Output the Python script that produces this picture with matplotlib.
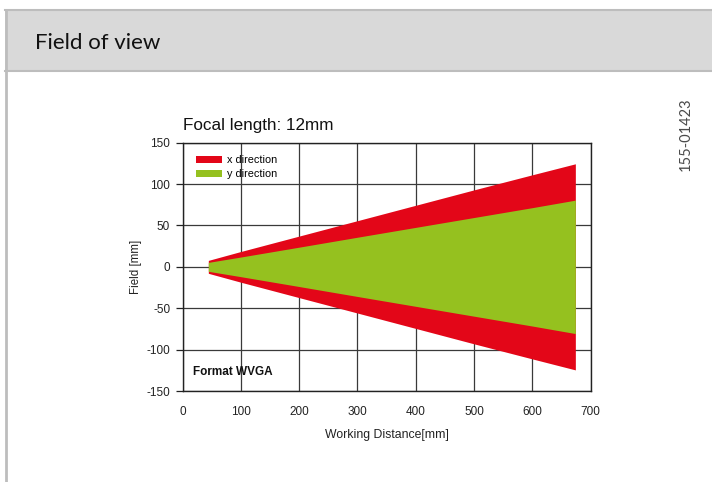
import matplotlib
matplotlib.use("Agg")
import matplotlib.pyplot as plt
from matplotlib.patches import Rectangle
from matplotlib.lines import Line2D

plt.rcParams["axes.unicode_minus"] = False

# Data
distance = [44, 100, 200, 300, 400, 500, 600, 674]          # working distance [mm]
x_half = [7.8, 18.6, 37.2, 55.8, 74.4, 93.0, 111.2, 124.5]  # half field, x direction [mm]
y_half = [5.4, 11.9, 23.8, 35.8, 47.7, 59.6, 71.5, 80.6]    # half field, y direction [mm]
x_ticks = [0, 100, 200, 300, 400, 500, 600, 700]
y_ticks = [-150, -100, -50, 0, 50, 100, 150]
series_labels = ["x direction", "y direction"]

RED = "#e30618"
GREEN = "#95c11f"

fig = plt.figure(figsize=(7.12, 4.82), dpi=100)
fig.patch.set_facecolor("white")

# Page header band
W, H = 712.0, 482.0
def fx(px): return px / W
def fy(py): return 1 - py / H
fig.patches.append(Rectangle((fx(5), fy(71)), 1 - fx(5), fy(10) - fy(71),
                             transform=fig.transFigure, facecolor="#d9d9d9",
                             edgecolor="none", zorder=0))
fig.lines.append(Line2D([fx(5), 1], [fy(10), fy(10)], transform=fig.transFigure,
                        color="#bdbdbd", lw=1.5))
fig.lines.append(Line2D([fx(5), 1], [fy(70.5), fy(70.5)], transform=fig.transFigure,
                        color="#bdbdbd", lw=1.5))
fig.lines.append(Line2D([fx(6), fx(6)], [fy(10), 0], transform=fig.transFigure,
                        color="#bdbdbd", lw=2))
fig.text(fx(35), fy(43), "Field of view", fontsize=16, family="Lato",
         va="center", ha="left", color="#111111")
fig.text(fx(686), fy(134), "155-01423", fontsize=10.5, family="Lato",
         rotation=90, va="center", ha="center", color="#4a4a4a")

ax = fig.add_axes([fx(182.7), fy(391), fx(590.5) - fx(182.7), fy(142.7) - fy(391)])

neg_x = [-v for v in x_half]
neg_y = [-v for v in y_half]
hx = ax.fill_between(distance, neg_x, x_half, color=RED, lw=0, zorder=2, label=series_labels[0])
hy = ax.fill_between(distance, neg_y, y_half, color=GREEN, lw=0, zorder=3, label=series_labels[1])

ax.set_xlim(0, 700)
ax.set_ylim(-150, 150)
ax.set_xticks(x_ticks)
ax.set_yticks(y_ticks)
ax.grid(True, color="#3a3a3a", lw=0.9, zorder=1)
ax.set_axisbelow(True)
for s in ax.spines.values():
    s.set_color("#222222")
    s.set_linewidth(1.0)
ax.tick_params(axis="y", direction="out", length=5, width=0.9, color="#222222",
               labelsize=8.5, pad=4)
ax.tick_params(axis="x", length=0, labelsize=8.5, pad=11)
for lab in ax.get_xticklabels() + ax.get_yticklabels():
    lab.set_family("Liberation Sans")
    lab.set_color("#222222")

ax.set_xlabel("Working Distance[mm]", fontsize=8.8, family="Liberation Sans",
              labelpad=8, color="#222222")
ax.set_ylabel("Field [mm]", fontsize=8.3, family="Liberation Sans",
              labelpad=3, color="#222222")
ax.set_title("Focal length: 12mm", fontsize=12.3, family="Liberation Sans",
             loc="left", pad=9, color="#111111")

leg = ax.legend(handles=[hx, hy], labels=series_labels, loc="upper left",
                bbox_to_anchor=(0.008, 0.99), frameon=False, handlelength=2.4,
                handleheight=0.65, handletextpad=0.45, labelspacing=0.38,
                prop={"family": "Liberation Sans", "size": 7.8})

ax.text(18, -127, "Format WVGA", fontsize=8.5, fontweight="bold",
        family="Liberation Sans", va="center", ha="left", color="#111111")

fig.savefig("out.png", dpi=100, facecolor="white")
